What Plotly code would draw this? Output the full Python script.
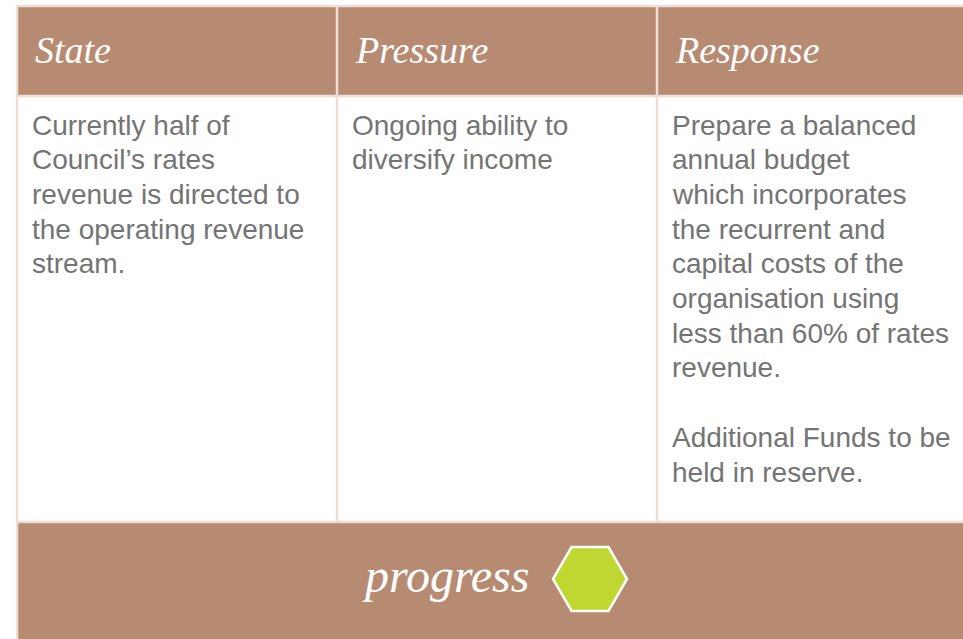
import plotly.graph_objects as go

# ---- data ----
headers = ["State", "Pressure", "Response"]
column_lines = [
    ["Currently half of", "Council’s rates", "revenue is directed to",
     "the operating revenue", "stream."],
    ["Ongoing ability to", "diversify income"],
    ["Prepare a balanced", "annual budget", "which incorporates",
     "the recurrent and", "capital costs of the", "organisation using",
     "less than 60% of rates", "revenue.", "", "Additional Funds to be",
     "held in reserve."],
]
footer_label = "progress"

# ---- style ----
W, H = 963, 639
BROWN = "#b78a72"
BORDER = "#eddfd6"
TEXT = "#747474"
GREEN = "#c0d731"

col_x = [17, 337, 657, 975]
top, head_bot, body_bot = 6, 96, 522
line0, line_h = 125, 34.7

fig = go.Figure()
shapes = []
shapes.append(dict(type="rect", xref="x", yref="y", x0=col_x[0], x1=col_x[-1],
                   y0=top, y1=head_bot, fillcolor=BROWN, line=dict(width=0), layer="below"))
shapes.append(dict(type="rect", xref="x", yref="y", x0=col_x[0], x1=col_x[-1],
                   y0=body_bot, y1=H + 5, fillcolor=BROWN, line=dict(width=0), layer="below"))
for y in [top, head_bot, body_bot]:
    shapes.append(dict(type="line", xref="x", yref="y", x0=col_x[0] - 1, x1=col_x[-1],
                       y0=y, y1=y, line=dict(color=BORDER, width=2.5)))
shapes.append(dict(type="line", xref="x", yref="y", x0=col_x[0], x1=col_x[0],
                   y0=top, y1=H + 5, line=dict(color=BORDER, width=2.5)))
for x in col_x[1:3]:
    shapes.append(dict(type="line", xref="x", yref="y", x0=x, x1=x,
                       y0=top, y1=body_bot, line=dict(color=BORDER, width=2.5)))
hx, hy, hr = 590, 579, 37
hexpath = "M {} {} L {} {} L {} {} L {} {} L {} {} L {} {} Z".format(
    hx - hr, hy, hx - hr / 2, hy - 32, hx + hr / 2, hy - 32,
    hx + hr, hy, hx + hr / 2, hy + 32, hx - hr / 2, hy + 32)
shapes.append(dict(type="path", xref="x", yref="y", path=hexpath,
                   fillcolor=GREEN, line=dict(color="white", width=2.5)))

annotations = []
for i, h in enumerate(headers):
    annotations.append(dict(x=col_x[i] + 16, y=50, xref="x", yref="y", text=h,
                            showarrow=False, xanchor="left", yanchor="middle",
                            font=dict(family="Liberation Serif", size=38, color="white",
                                      style="italic")))
for i, lines in enumerate(column_lines):
    for j, ln in enumerate(lines):
        if not ln:
            continue
        annotations.append(dict(x=col_x[i] + 13, y=line0 + j * line_h, xref="x", yref="y",
                                text=ln, showarrow=False, xanchor="left", yanchor="middle",
                                font=dict(family="Liberation Sans", size=28, color=TEXT)))
annotations.append(dict(x=445, y=575, xref="x", yref="y", text=footer_label,
                        showarrow=False, xanchor="center", yanchor="middle",
                        font=dict(family="Liberation Serif", size=48, color="white",
                                  style="italic")))

fig.update_layout(
    width=W, height=H, margin=dict(l=0, r=0, t=0, b=0),
    paper_bgcolor="white", plot_bgcolor="white",
    xaxis=dict(range=[0, W], visible=False, fixedrange=True),
    yaxis=dict(range=[H, 0], visible=False, fixedrange=True),
    shapes=shapes, annotations=annotations, showlegend=False,
)
fig.write_html("out.html", config={"displayModeBar": False},
               post_script="document.body.style.margin='0';document.body.style.overflow='hidden';")
